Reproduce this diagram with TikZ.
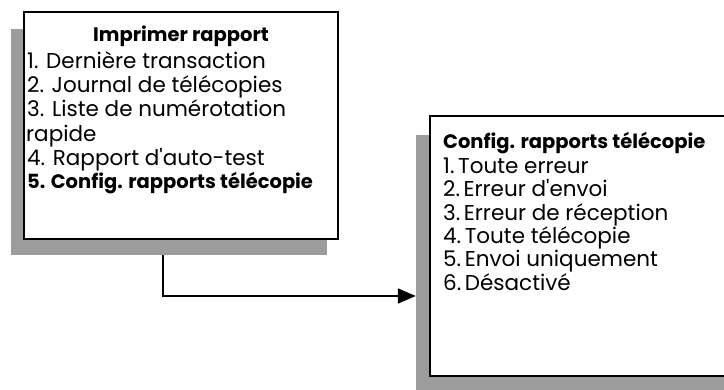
\documentclass[tikz,border=0pt]{standalone}
\usepackage{fontspec}
\setmainfont{Poppins}
\usetikzlibrary{arrows.meta}
\definecolor{shadowgray}{RGB}{156,156,156}

\begin{document}
\begin{tikzpicture}[x=1pt,y=1pt,
		menubox/.style={draw,line width=2pt,fill=white,minimum width=314pt,inner sep=0pt},
		menushadow/.style={fill=shadowgray,minimum width=316pt,inner sep=0pt},
		entry/.style={anchor=base west,inner sep=0pt,font=\fontsize{21.5}{24}\selectfont},
		heading/.style={entry,font=\fontsize{19.5}{24}\selectfont\bfseries},
		link/.style={line width=2pt,-{Triangle[length=18pt,width=15pt]}}]
		\clip (0,0) rectangle (724,390);
		\node[menushadow,minimum height=226pt] (imprimershadow) at (168.5,248) {};
		\node[menubox,minimum height=227pt] (imprimer) at (181,264.5) {};
		\node[menushadow,minimum height=262pt] (configshadow) at (574,124) {};
		\node[menubox,minimum height=260pt] (config) at (587,144) {};
		\node[heading,anchor=base] (imprimertitle) at (181,348) {Imprimer rapport};
		\node[entry] (imprimer1) at (27,321) {1. Dernière transaction};
		\node[entry] (imprimer2) at (27,297) {2. Journal de télécopies};
		\node[entry] (imprimer3) at (27,273) {3. Liste de numérotation};
		\node[entry] (imprimer3b) at (26,248) {rapide};
		\node[entry] (imprimer4) at (27,224) {4. Rapport d\textquotesingle auto-test};
		\node[heading] (imprimer5) at (27,201) {5. Config. rapports télécopie};
		\node[heading] (configtitle) at (443,241) {Config. rapports télécopie};
		\node[entry] (config1) at (443,216) {1.\,Toute erreur};
		\node[entry] (config2) at (443,193) {2.\,Erreur d\textquotesingle envoi};
		\node[entry] (config3) at (443,169) {3.\,Erreur de réception};
		\node[entry] (config4) at (443,146) {4.\,Toute télécopie};
		\node[entry] (config5) at (443,123) {5.\,Envoi uniquement};
		\node[entry] (config6) at (443,99) {6.\,Désactivé};
		\coordinate (bend) at (163,94);
		\draw[link] (imprimershadow.south -| bend) |- (configshadow.west |- bend);
\end{tikzpicture}
\end{document}
